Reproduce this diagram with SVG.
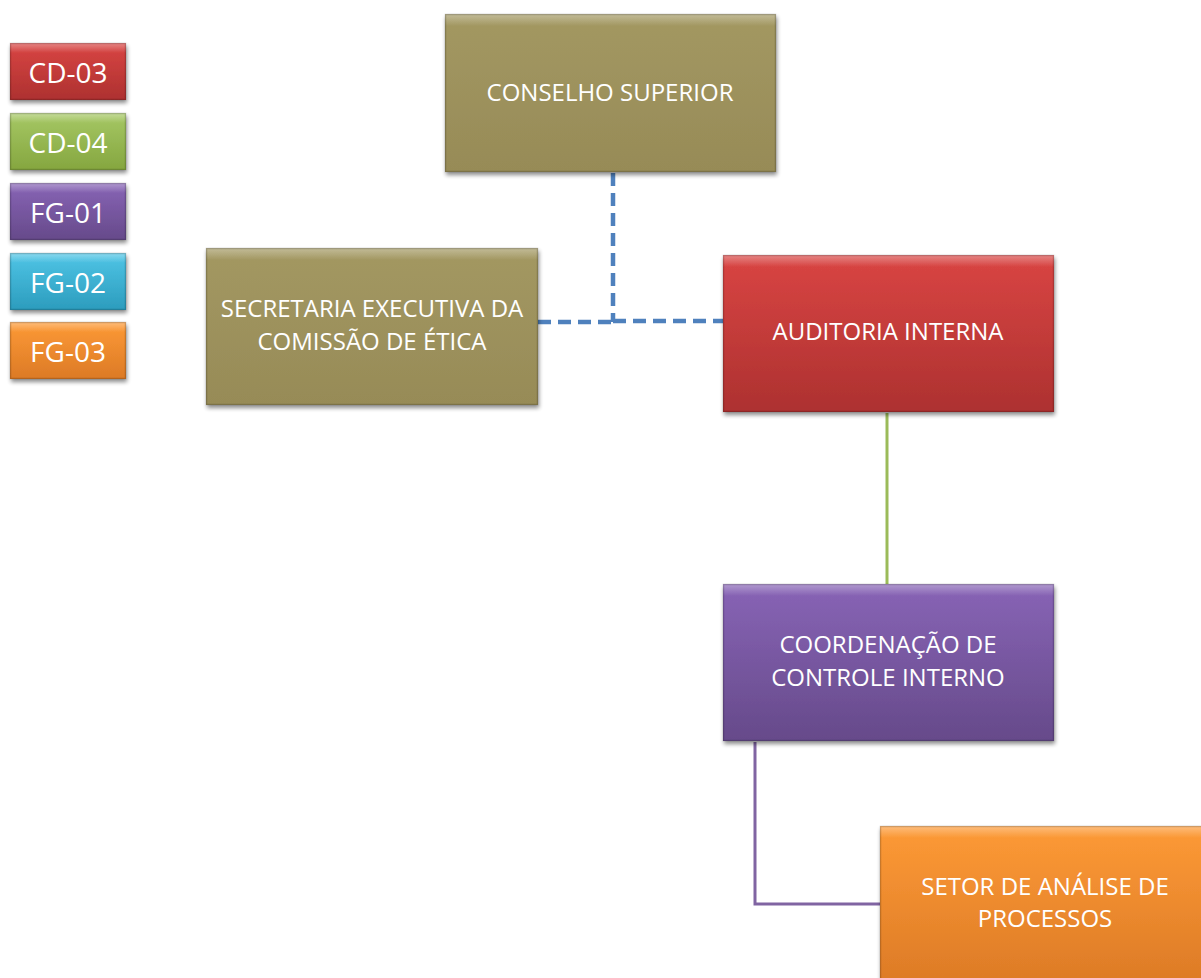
<svg xmlns="http://www.w3.org/2000/svg" width="1201" height="978" viewBox="0 0 1201 978">
<defs>
<linearGradient id="gOlive" x1="0" y1="0" x2="0" y2="1"><stop offset="0" stop-color="#a39862"/><stop offset="1" stop-color="#978b57"/></linearGradient>
<linearGradient id="gRed" x1="0" y1="0" x2="0" y2="1"><stop offset="0" stop-color="#d94543"/><stop offset="1" stop-color="#ad3130"/></linearGradient>
<linearGradient id="gGreen" x1="0" y1="0" x2="0" y2="1"><stop offset="0" stop-color="#a6c865"/><stop offset="1" stop-color="#85a63f"/></linearGradient>
<linearGradient id="gPurple" x1="0" y1="0" x2="0" y2="1"><stop offset="0" stop-color="#8864b6"/><stop offset="1" stop-color="#664a8a"/></linearGradient>
<linearGradient id="gBlue" x1="0" y1="0" x2="0" y2="1"><stop offset="0" stop-color="#4fc5e6"/><stop offset="1" stop-color="#2c9cbd"/></linearGradient>
<linearGradient id="gOrange" x1="0" y1="0" x2="0" y2="1"><stop offset="0" stop-color="#fd9a36"/><stop offset="1" stop-color="#dc7a26"/></linearGradient>
<linearGradient id="hl" x1="0" y1="0" x2="0" y2="1"><stop offset="0" stop-color="#fff" stop-opacity="0.35"/><stop offset="1" stop-color="#fff" stop-opacity="0"/></linearGradient>
<filter id="sh" x="-10%" y="-10%" width="120%" height="130%"><feGaussianBlur in="SourceAlpha" stdDeviation="2"/><feOffset dx="1" dy="3" result="b"/><feComponentTransfer><feFuncA type="linear" slope="0.45"/></feComponentTransfer><feMerge><feMergeNode/><feMergeNode in="SourceGraphic"/></feMerge></filter>
</defs>
<style>
.box{filter:url(#sh);}
.edge{fill:none;stroke:#000;stroke-opacity:0.18;stroke-width:1.5;}
.t{font-family:"Open Sans","Liberation Sans",sans-serif;fill:#fff;text-anchor:middle;font-size:24px;}
.lt{font-family:"Open Sans","Liberation Sans",sans-serif;fill:#fff;text-anchor:middle;font-size:28px;}
.dash{fill:none;stroke:#4f81bd;stroke-width:4.5;stroke-dasharray:13 7;}
</style>
<rect width="1201" height="978" fill="#fff"/>
<g id="connectors">
<path class="dash" d="M613 173 V322"/>
<path class="dash" d="M538 322 H613"/>
<path class="dash" d="M613 321 H723"/>
<path d="M887 413 V584" fill="none" stroke="#9bbb59" stroke-width="3"/>
<path d="M755 742 V904 H880" fill="none" stroke="#8064a2" stroke-width="3"/>
</g>
<g id="legend-cd03"><g class="box"><rect x="10" y="43" width="116" height="57" fill="url(#gRed)"/><rect x="10" y="43" width="116" height="10" fill="url(#hl)"/><rect class="edge" x="10.5" y="43.5" width="115" height="56"/></g><text class="lt" x="68" y="83">CD-03</text></g>
<g id="legend-cd04"><g class="box"><rect x="10" y="113" width="116" height="57" fill="url(#gGreen)"/><rect x="10" y="113" width="116" height="10" fill="url(#hl)"/><rect class="edge" x="10.5" y="113.5" width="115" height="56"/></g><text class="lt" x="68" y="153">CD-04</text></g>
<g id="legend-fg01"><g class="box"><rect x="10" y="183" width="116" height="57" fill="url(#gPurple)"/><rect x="10" y="183" width="116" height="10" fill="url(#hl)"/><rect class="edge" x="10.5" y="183.5" width="115" height="56"/></g><text class="lt" x="68" y="223">FG-01</text></g>
<g id="legend-fg02"><g class="box"><rect x="10" y="253" width="116" height="57" fill="url(#gBlue)"/><rect x="10" y="253" width="116" height="10" fill="url(#hl)"/><rect class="edge" x="10.5" y="253.5" width="115" height="56"/></g><text class="lt" x="68" y="293">FG-02</text></g>
<g id="legend-fg03"><g class="box"><rect x="10" y="322" width="116" height="57" fill="url(#gOrange)"/><rect x="10" y="322" width="116" height="10" fill="url(#hl)"/><rect class="edge" x="10.5" y="322.5" width="115" height="56"/></g><text class="lt" x="68" y="362">FG-03</text></g>
<g id="conselho-superior"><g class="box"><rect x="445" y="14" width="331" height="158" fill="url(#gOlive)"/><rect x="445" y="14" width="331" height="12" fill="url(#hl)"/><rect class="edge" x="445.5" y="14.5" width="330" height="157"/></g><text class="t" x="610" y="101">CONSELHO SUPERIOR</text></g>
<g id="secretaria-etica"><g class="box"><rect x="206" y="248" width="332" height="157" fill="url(#gOlive)"/><rect x="206" y="248" width="332" height="12" fill="url(#hl)"/><rect class="edge" x="206.5" y="248.5" width="331" height="156"/></g><text class="t" x="372" y="317">SECRETARIA EXECUTIVA DA</text><text class="t" x="372" y="350">COMISSÃO DE ÉTICA</text></g>
<g id="auditoria-interna"><g class="box"><rect x="723" y="255" width="331" height="157" fill="url(#gRed)"/><rect x="723" y="255" width="331" height="12" fill="url(#hl)"/><rect class="edge" x="723.5" y="255.5" width="330" height="156"/></g><text class="t" x="888" y="340">AUDITORIA INTERNA</text></g>
<g id="coordenacao-controle"><g class="box"><rect x="723" y="584" width="331" height="157" fill="url(#gPurple)"/><rect x="723" y="584" width="331" height="12" fill="url(#hl)"/><rect class="edge" x="723.5" y="584.5" width="330" height="156"/></g><text class="t" x="888" y="653">COORDENAÇÃO DE</text><text class="t" x="888" y="686">CONTROLE INTERNO</text></g>
<g id="setor-analise"><g class="box"><rect x="880" y="826" width="331" height="160" fill="url(#gOrange)"/><rect x="880" y="826" width="331" height="12" fill="url(#hl)"/><rect class="edge" x="880.5" y="826.5" width="330" height="159"/></g><text class="t" x="1045" y="895">SETOR DE ANÁLISE DE</text><text class="t" x="1045" y="927">PROCESSOS</text></g>
</svg>
